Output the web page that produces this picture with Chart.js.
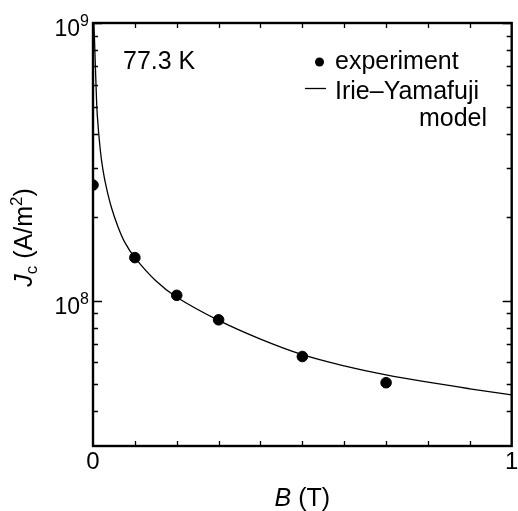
<!DOCTYPE html>
<html>
<head>
<meta charset="utf-8">
<script src="https://cdn.jsdelivr.net/npm/chart.js@4"></script>
<style>
body { margin: 0; background: #fff; }
</style>
</head>
<body>
<canvas id="jcChart" width="518" height="511"></canvas>
<script>
// measured points (B in T, Jc in A/m2)
b_exp = [0, 0.1, 0.2, 0.3, 0.5, 0.7]
jc_exp = [2.61e8, 1.43e8, 1.046e8, 8.54e7, 6.3e7, 5.07e7]

// Irie-Yamafuji curve
b_model = [0.002, 0.0036, 0.007, 0.0102, 0.0174, 0.0238, 0.0316, 0.0435, 0.0594, 0.0753, 0.1, 0.15, 0.2, 0.3, 0.4, 0.5, 0.6, 0.7, 0.8, 0.9, 1.0]
jc_model = [1e9, 8.7e8, 6.1e8, 4.67e8, 3.49e8, 2.96e8, 2.57e8, 2.18e8, 1.85e8, 1.63e8, 1.43e8, 1.18e8, 1.03e8, 8.5e7, 7.28e7, 6.4e7, 5.83e7, 5.41e7, 5.09e7, 4.82e7, 4.58e7]

// axis ticks
x_labels = [[0, "0"], [1, "1"]]
x_minor = [0.1, 0.2, 0.3, 0.4, 0.5, 0.6, 0.7, 0.8, 0.9]
y_labels = [[1e8, "8"], [1e9, "9"]]
y_minor = [4e7, 5e7, 6e7, 7e7, 8e7, 9e7, 2e8, 3e8, 4e8, 5e8, 6e8, 7e8, 8e8, 9e8]

legend_exp = "experiment"
legend_model = ["Irie\u2013Yamafuji", "model"]
temp_label = "77.3 K"

chart = document.getElementById("jcChart")
font = "'Liberation Sans', Arial, sans-serif"

function make_points(xs, ys){
  return xs.map((x, i) => ({x: x, y: ys[i]}))
}

// draws pieces like [text, size, shift, italic] one after another
function draw_parts(ctx, parts, x, y, align){
  let total = 0
  parts.forEach(p => {
    ctx.font = (p[3] ? "italic " : "") + p[1] + "px " + font
    total += ctx.measureText(p[0]).width
  })
  let cx = x
  if (align == "right") cx = x - total
  if (align == "center") cx = x - total / 2
  ctx.textAlign = "left"
  ctx.textBaseline = "alphabetic"
  parts.forEach(p => {
    ctx.font = (p[3] ? "italic " : "") + p[1] + "px " + font
    ctx.fillText(p[0], cx, y + p[2])
    cx += ctx.measureText(p[0]).width
  })
}

frame_plugin = {
  id: "frame",
  beforeDatasetsDraw(c){
    const ctx = c.ctx
    const a = c.chartArea
    const xs = c.scales.x
    const ys = c.scales.y
    ctx.save()
    ctx.strokeStyle = "#000"
    ctx.lineWidth = 1.3
    ctx.beginPath()
    x_minor.forEach(v => {
      const px = Math.round(xs.getPixelForValue(v)) + 0.5
      ctx.moveTo(px, a.bottom); ctx.lineTo(px, a.bottom - 5)
      ctx.moveTo(px, a.top); ctx.lineTo(px, a.top + 5)
    })
    y_minor.forEach(v => {
      const py = Math.round(ys.getPixelForValue(v)) + 0.5
      ctx.moveTo(a.left, py); ctx.lineTo(a.left + 5, py)
      ctx.moveTo(a.right, py); ctx.lineTo(a.right - 5, py)
    })
    y_labels.forEach(t => {
      const py = Math.round(ys.getPixelForValue(t[0])) + 0.5
      ctx.moveTo(a.left, py); ctx.lineTo(a.left + 9, py)
      ctx.moveTo(a.right, py); ctx.lineTo(a.right - 9, py)
    })
    ctx.stroke()
    ctx.lineWidth = 2.4
    ctx.strokeRect(a.left, a.top, a.right - a.left, a.bottom - a.top)
    ctx.restore()
  },
  afterDraw(c){
    const ctx = c.ctx
    const a = c.chartArea
    const xs = c.scales.x
    const ys = c.scales.y
    ctx.save()
    ctx.fillStyle = "#000"

    x_labels.forEach(t => {
      draw_parts(ctx, [[t[1], 24, 0]], xs.getPixelForValue(t[0]), a.bottom + 23, "center")
    })
    y_labels.forEach(t => {
      const py = ys.getPixelForValue(t[0])
      draw_parts(ctx, [["10", 23, 0], [t[1], 16, -10]], a.left - 4, py + 13, "right")
    })

    // axis titles
    draw_parts(ctx, [["B", 25, 0, true], [" (T)", 25, 0]], (a.left + a.right) / 2, a.bottom + 60, "center")
    ctx.translate(32, (a.top + a.bottom) / 2 + 3)
    ctx.rotate(-Math.PI / 2)
    draw_parts(ctx, [["J", 25, 0, true], ["c", 17, 5], [" (A/m", 25, 0], ["2", 17, -10], [")", 25, 0]], 0, 0, "center")
    ctx.setTransform(1, 0, 0, 1, 0, 0)

    // label and legend
    draw_parts(ctx, [[temp_label, 25, 0]], 123, 69, "left")
    ctx.beginPath()
    ctx.arc(319.5, 62, 4.5, 0, Math.PI * 2)
    ctx.fill()
    draw_parts(ctx, [[legend_exp, 25, 0]], 335, 69, "left")
    ctx.lineWidth = 1.3
    ctx.beginPath()
    ctx.moveTo(305, 88.5); ctx.lineTo(326, 88.5)
    ctx.stroke()
    draw_parts(ctx, [[legend_model[0], 25, 0]], 335, 99, "left")
    draw_parts(ctx, [[legend_model[1], 25, 0]], 487, 126, "right")
    ctx.restore()
  }
}

jcChart = new Chart(chart, {
  type: "scatter",
  data: {
    datasets: [{
      label: legend_exp,
      data: make_points(b_exp, jc_exp),
      backgroundColor: "#000",
      borderColor: "#000",
      pointRadius: 5.3,
      pointHoverRadius: 5.3,
      showLine: false
    }, {
      label: legend_model.join(" "),
      data: make_points(b_model, jc_model),
      borderColor: "#000",
      borderWidth: 1.3,
      pointRadius: 0,
      showLine: true,
      tension: 0.35,
      fill: false
    }]
  },
  options: {
    responsive: false,
    animation: false,
    layout: { padding: { left: 93, right: 4, top: 23, bottom: 65 } },
    plugins: { legend: { display: false }, tooltip: { enabled: false } },
    scales: {
      x: { type: "linear", min: 0, max: 1, display: false },
      y: { type: "logarithmic", min: 3e7, max: 1e9, display: false }
    }
  },
  plugins: [frame_plugin]
});
</script>
</body>
</html>
